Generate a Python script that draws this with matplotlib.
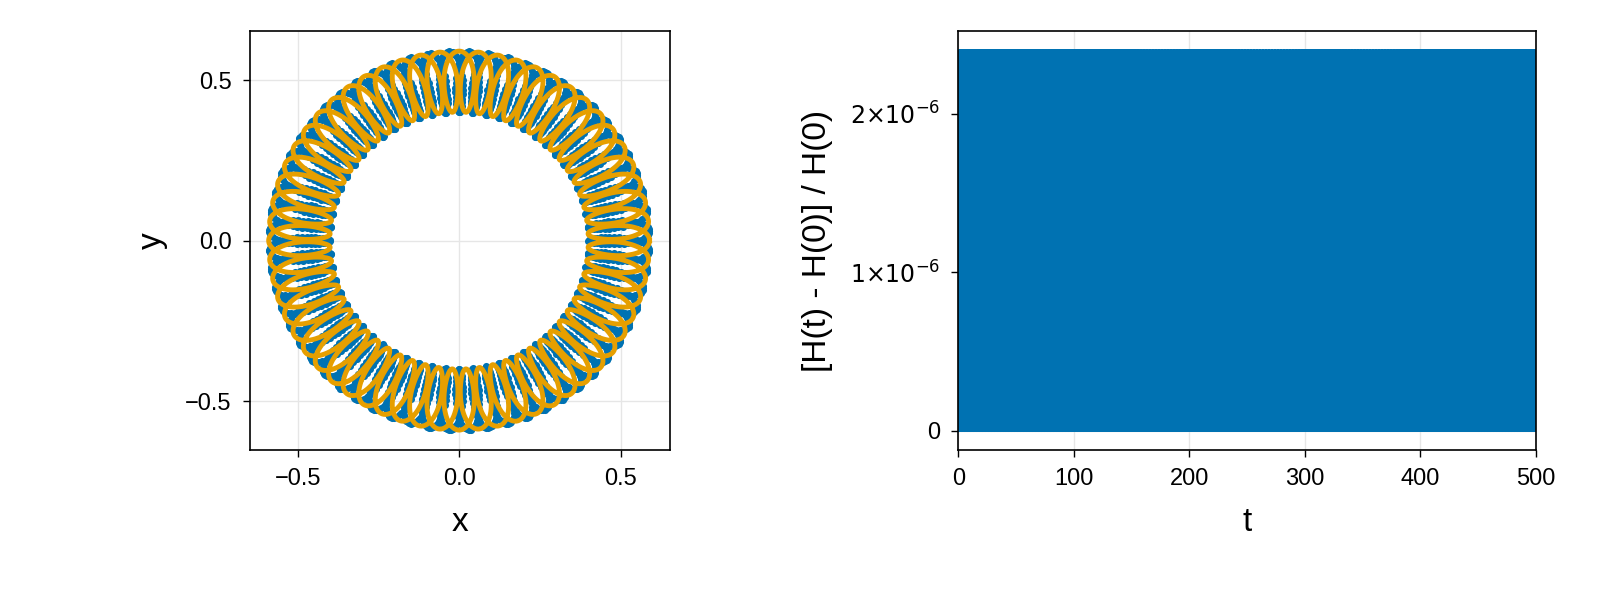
import numpy as np
import matplotlib
matplotlib.use("Agg")
import matplotlib.pyplot as plt
from matplotlib.ticker import FuncFormatter

plt.rcParams['font.family'] = ['Liberation Sans', 'DejaVu Sans']

# orbit parameters
ring_radius = [0.495]
radial_amp = [0.095]
tangential_amp = [0.034]
loops_per_rev = [60]
t_end = [500.0]
H_err_max = [2.4e-6]

blue = '#0072B2'
orange = '#E69F00'

R0, a, b, n = ring_radius[0], radial_amp[0], tangential_amp[0], loops_per_rev[0]
s = np.linspace(0, 2*np.pi, 8000)
r = R0 + a*np.cos(n*s)
phi = s + (b/R0)*np.sin(n*s)
x = r*np.cos(phi); y = r*np.sin(phi)
sp = np.linspace(0, 2*np.pi, 2400)
rp = R0 + a*np.cos(n*sp)
pp = sp + (0.7*b/R0)*np.sin(n*sp) + np.pi/n
xp = rp*np.cos(pp); yp = rp*np.sin(pp)

t = np.linspace(0, t_end[0], 40000)
H = H_err_max[0]*np.sin(6.1*t)**2

fig = plt.figure(figsize=(16, 6), dpi=100)
ax1 = fig.add_axes([0.156, 0.25, 0.2625, 0.698])
ax2 = fig.add_axes([0.599, 0.25, 0.361, 0.698])

ax1.scatter(xp, yp, s=26, color=blue, linewidths=0, zorder=2)
ax1.plot(x, y, color=orange, lw=3.5, zorder=3)
ax1.set_xlim(-0.649, 0.652); ax1.set_ylim(-0.652, 0.652)
ax1.set_xticks([-0.5, 0, 0.5]); ax1.set_yticks([-0.5, 0, 0.5])
fmt = FuncFormatter(lambda v, p: f"{v:.1f}".replace('-', '\u2212'))
ax1.xaxis.set_major_formatter(fmt); ax1.yaxis.set_major_formatter(fmt)
ax1.set_xlabel('x', fontsize=24, labelpad=12); ax1.set_ylabel('y', fontsize=24, labelpad=12)

ax2.plot(t, H, color=blue, lw=1.5)
ax2.set_xlim(0, 500); ax2.set_ylim(-0.12e-6, 2.52e-6)
ax2.set_xticks([0, 100, 200, 300, 400, 500])
ax2.set_yticks([0, 1e-6, 2e-6])
ax2.set_yticklabels(['0', r'$1{\times}10^{-6}$', r'$2{\times}10^{-6}$'])
ax2.set_xlabel('t', fontsize=24, labelpad=12)
ax2.set_ylabel('[H(t) - H(0)] / H(0)', fontsize=24, labelpad=12)

for ax in (ax1, ax2):
    ax.grid(True, color='#e6e6e6', lw=1, zorder=0)
    ax.set_axisbelow(True)
    ax.tick_params(labelsize=17, length=5, width=1, pad=8)
    for sp_ in ax.spines.values():
        sp_.set_linewidth(1.2)

fig.savefig('out.png', dpi=100)
